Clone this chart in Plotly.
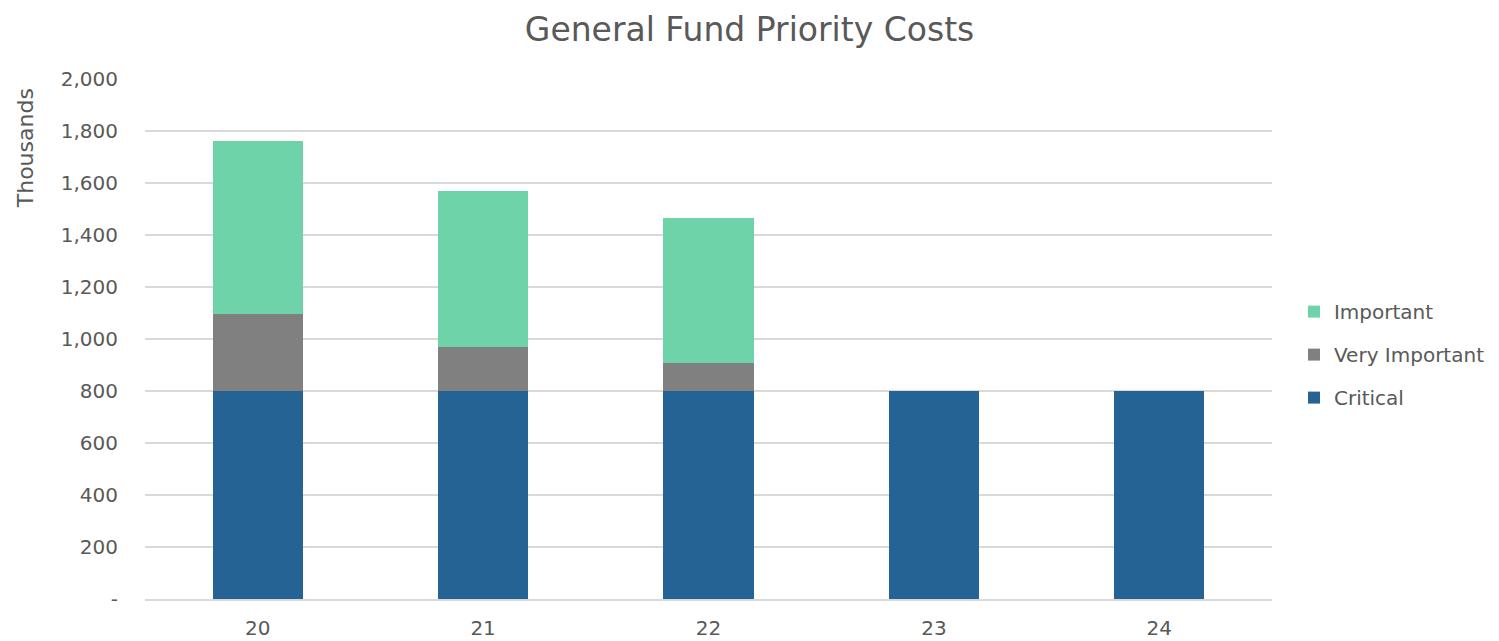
import plotly.graph_objects as go

years = ["20", "21", "22", "23", "24"]
critical = [800, 800, 800, 800, 800]
very_important = [295, 168, 106, 0, 0]
important = [665, 601, 561, 0, 0]

tick_vals = [0, 200, 400, 600, 800, 1000, 1200, 1400, 1600, 1800, 2000]
tick_text = ["-", "200", "400", "600", "800", "1,000", "1,200", "1,400", "1,600", "1,800", "2,000"]

FONT = "DejaVu Sans"
TXT = "#595959"

fig = go.Figure()
fig.add_trace(go.Bar(x=years, y=critical, name="Critical", marker_color="#246394",
                     marker_line_width=0, legendgroup="c", legendrank=3))
fig.add_trace(go.Bar(x=years, y=very_important, name="Very Important", marker_color="#808080",
                     marker_line_width=0, legendgroup="v", legendrank=2))
fig.add_trace(go.Bar(x=years, y=important, name="Important", marker_color="#6fd3aa",
                     marker_line_width=0, legendgroup="i", legendrank=1))

fig.update_layout(
    barmode="stack",
    bargap=0.6,
    width=1499, height=641,
    margin=dict(l=137, r=235, t=71, b=50, autoexpand=False),
    paper_bgcolor="white", plot_bgcolor="white",
    font=dict(family=FONT, color=TXT, size=19),
    title=dict(text="General Fund Priority Costs", x=0.4947, xanchor="center", xref="container",
               y=0.966, yanchor="middle", font=dict(size=33, color=TXT, family=FONT)),
    legend=dict(traceorder="grouped", x=1.0195, xanchor="left", xref="paper",
                y=0.47, yanchor="middle",
                font=dict(size=20, color=TXT), tracegroupgap=14, itemwidth=30),
    yaxis=dict(range=[0, 2000], tickvals=tick_vals, ticktext=tick_text,
               showgrid=True, gridcolor="#d9d9d9", gridwidth=2, zeroline=False,
               showline=False, ticks="", ticklabelstandoff=26, automargin=False,
               tickfont=dict(size=20)),
    xaxis=dict(showline=True, linecolor="#d9d9d9", linewidth=2, ticks="",
               ticklabelstandoff=10, automargin=False, tickfont=dict(size=20)),
    annotations=[dict(text="Thousands", textangle=-90, xref="paper", yref="paper",
                      x=-0.106, y=0.866, xanchor="center", yanchor="middle",
                      showarrow=False, font=dict(size=22, color=TXT, family=FONT))],
    showlegend=True,
)

fig.write_html("out.html")
